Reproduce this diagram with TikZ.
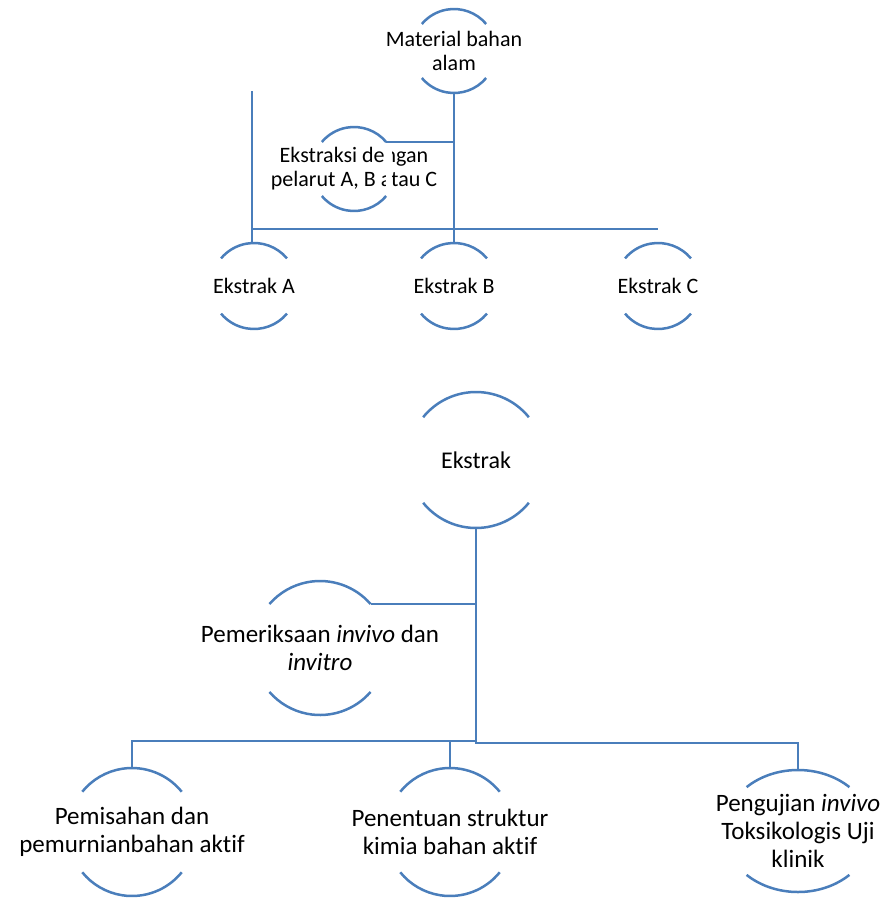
\documentclass[tikz,border=0pt]{standalone}
\usepackage{fontspec}
\setmainfont{Carlito}[Ligatures=NoCommon]
\usepackage{tikz}

\definecolor{smartblue}{RGB}{74,126,187}

\tikzset{
  link/.style={draw=smartblue, line width=2.8pt},
  rim/.style={draw=smartblue, line width=2.5pt},
  toptext/.style={font=\fontsize{22}{24}\selectfont, align=center, inner sep=0pt},
  lowtext/.style={font=\fontsize{25}{28}\selectfont, align=center, inner sep=0pt},
}

% arcs above and below a named node: name, x radius, y radius, angle
\newcommand{\rims}[4]{%
  \coordinate (#1-top) at ([shift={(0,#3)}]#1.center);
  \coordinate (#1-bot) at ([shift={(0,-#3)}]#1.center);
  \coordinate (#1-ne) at ([shift={(#4:#2 and #3)}]#1.center);
  \draw[rim] ([shift={(#4:#2 and #3)}]#1.center)
    arc[start angle=#4, end angle=180-#4, x radius=#2, y radius=#3];
  \draw[rim] ([shift={(-#4:#2 and #3)}]#1.center)
    arc[start angle=-#4, end angle=-180+#4, x radius=#2, y radius=#3];
}

\begin{document}
\begin{tikzpicture}[x=1pt, y=1pt]
  \useasboundingbox (0,0) rectangle (885,-902);

  % extraction part
  \node[toptext] (mat) at (454,-51) {Material bahan\\alam};
  \node[toptext] (eks) at (354,-169) {Ekstraksi dengan\\pelarut A, B atau C};
  \fill[white] (386,-138) rectangle (392,-196);
  \node[toptext] (exA) at (254,-286) {Ekstrak A};
  \node[toptext] (exB) at (454,-286) {Ekstrak B};
  \node[toptext] (exC) at (658,-286) {Ekstrak C};
  \rims{mat}{42}{42}{40}
  \rims{eks}{42}{42}{40}
  \rims{exA}{43}{43}{40}
  \rims{exB}{43}{43}{40}
  \rims{exC}{43}{43}{40}

  \coordinate (stub) at (252,-91);
  \coordinate (topbus) at (0,-229);
  \draw[link] (mat-bot) -- (exB-top);
  \draw[link] (eks-ne) -- (eks-ne -| mat-bot);
  \draw[link] (stub) -- (stub |- exA-top);
  \draw[link] (stub |- topbus) -- (exC-top |- topbus);

  % testing part
  \node[font=\fontsize{24}{28}\selectfont, inner sep=0pt] (ekl) at (476,-460) {Ekstrak};
  \node[lowtext] (pmr) at (320,-648) {Pemeriksaan \textit{invivo} dan\\\textit{invitro}};
  \node[lowtext] (pms) at (132,-832) {Pemisahan dan\\pemurnianbahan aktif};
  \node[lowtext] (pnt) at (450,-832) {Penentuan struktur\\kimia bahan aktif};
  \node[lowtext] (uji) at (798,-831) {Pengujian \textit{invivo}\\Toksikologis Uji\\klinik};
  \rims{ekl}{68}{68}{39}
  \rims{pmr}{67}{67}{41}
  \rims{pms}{64}{64}{39}
  \rims{pnt}{64}{64}{39}
  \rims{uji}{74}{61}{46}

  \coordinate (lbus) at (0,-741);
  \coordinate (rbus) at (0,-743);
  \draw[link] (ekl-bot) -- (ekl-bot |- rbus) -- (uji-top |- rbus) -- (uji-top);
  \draw[link] (pmr-ne) -- (pmr-ne -| ekl-bot);
  \draw[link] (pms-top) -- (pms-top |- lbus) -- (ekl-bot |- lbus);
  \draw[link] (pnt-top) -- (pnt-top |- lbus);
\end{tikzpicture}
\end{document}
